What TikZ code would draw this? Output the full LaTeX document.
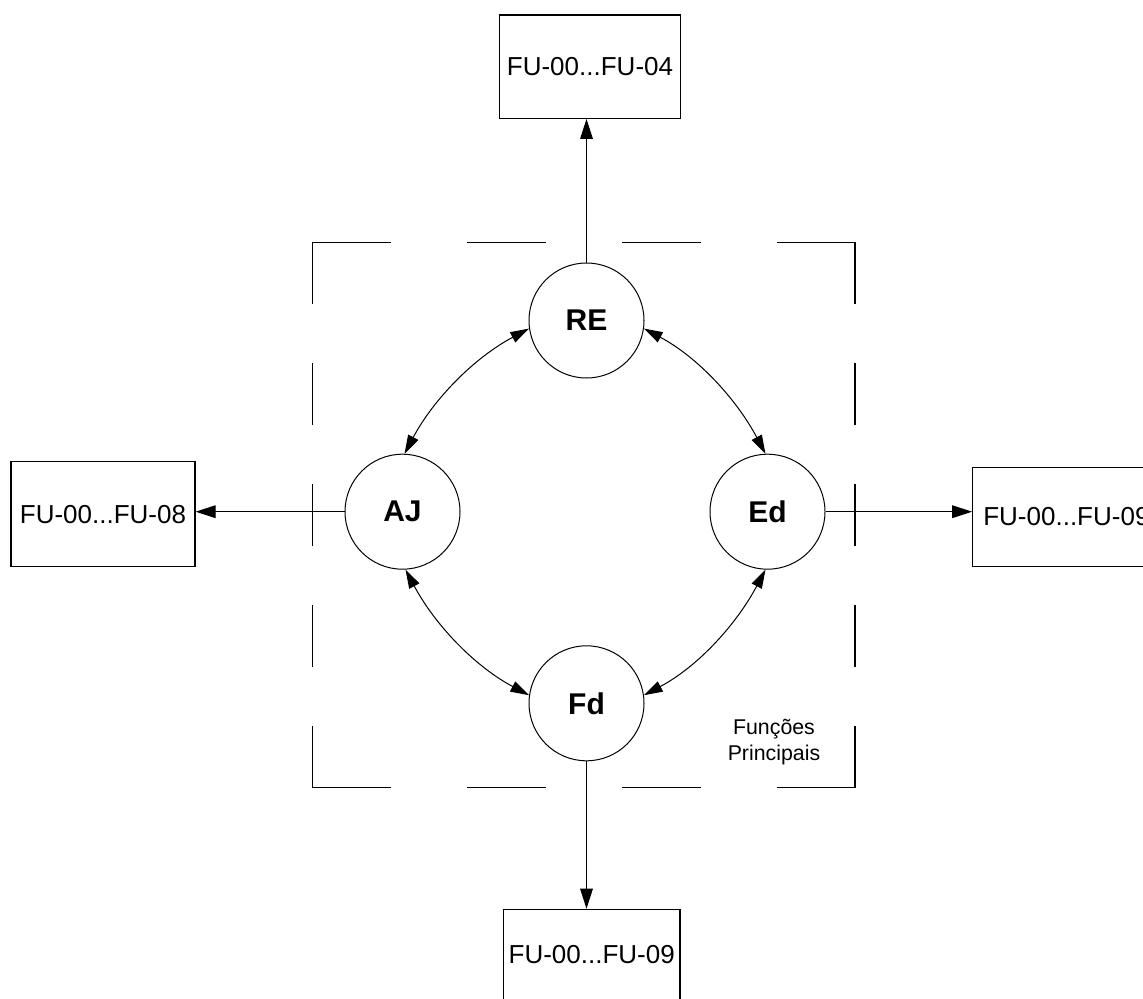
\documentclass[tikz,border=0pt]{standalone}
\usepackage{fontspec}
\setmainfont{Liberation Sans}
\usetikzlibrary{arrows.meta}
\begin{document}
\begin{tikzpicture}[x=0.75pt,y=0.75pt,
  fubox/.style={draw, line width=0.85pt, inner sep=0pt, font=\fontsize{19.5}{23}\selectfont},
  circ/.style={draw, circle, line width=0.75pt, inner sep=0pt, minimum size=86.25pt, font=\bfseries\fontsize{22.5}{27}\selectfont},
  conn/.style={line width=0.75pt},
  tip/.style={-{Triangle[length=15pt,width=9.5pt]}},
  bitip/.style={{Triangle[length=14pt,width=8.5pt]}-{Triangle[length=14pt,width=8.5pt]}},
  hdash/.style={line width=0.85pt, line cap=rect, dash pattern=on 58.1pt off 58.1pt},
  vdash/.style={line width=0.85pt, line cap=rect, dash pattern=on 45.4pt off 45.4pt}]
\useasboundingbox (0,0) rectangle (1143,-999);
\clip (0,0) rectangle (1143,-999);

% dashed frame
\draw[hdash] (312.7,-242.7) -- (855,-242.7);
\draw[hdash] (312.7,-787.7) -- (855,-787.7);
\draw[vdash] (312.7,-242.7) -- (312.7,-787.7);
\draw[vdash] (855,-242.7) -- (855,-787.7);

% boxes
\node[fubox, minimum width=136.3pt, minimum height=77.5pt] (topbox) at (590,-66.7) {FU-00...FU-04};
\node[fubox, minimum width=138pt, minimum height=78.75pt] (leftbox) at (103,-514.2) {FU-00...FU-08};
\node[fubox, minimum width=140.5pt, minimum height=74.5pt] (rightbox) at (1066.4,-517) {FU-00...FU-09};
\node[fubox, minimum width=132.5pt, minimum height=68.6pt] (botbox) at (591.7,-955) {FU-00...FU-09};

% circles
\node[circ] (RE) at (586.5,-320.5) {RE};
\node[circ] (AJ) at (402.5,-511.7) {AJ};
\node[circ] (Ed) at (767.5,-511.7) {Ed};
\node[circ] (Fd) at (586.5,-703.3) {Fd};

% label
\node[font=\fontsize{16}{19.3}\selectfont, align=center, inner sep=0pt] (fp) at (774,-742) {Funções\\Principais};

% straight connectors
\draw[conn, tip] (RE.north) -- (RE.north |- topbox.south);
\draw[conn, tip] (AJ.west) -- (AJ.west -| leftbox.east);
\draw[conn, tip] (Ed.east) -- (Ed.east -| rightbox.west);
\draw[conn, tip] (Fd.south) -- (Fd.south |- botbox.north);

% curved double-headed connectors
\draw[conn, bitip] (RE.188) to[out=208, in=62, looseness=0.9] (AJ.88);
\draw[conn, bitip] (RE.352) to[out=332, in=118, looseness=0.9] (Ed.92);
\draw[conn, bitip] (Fd.172) to[out=152, in=298, looseness=0.9] (AJ.273);
\draw[conn, bitip] (Fd.8) to[out=28, in=242, looseness=0.9] (Ed.268);
\end{tikzpicture}
\end{document}
